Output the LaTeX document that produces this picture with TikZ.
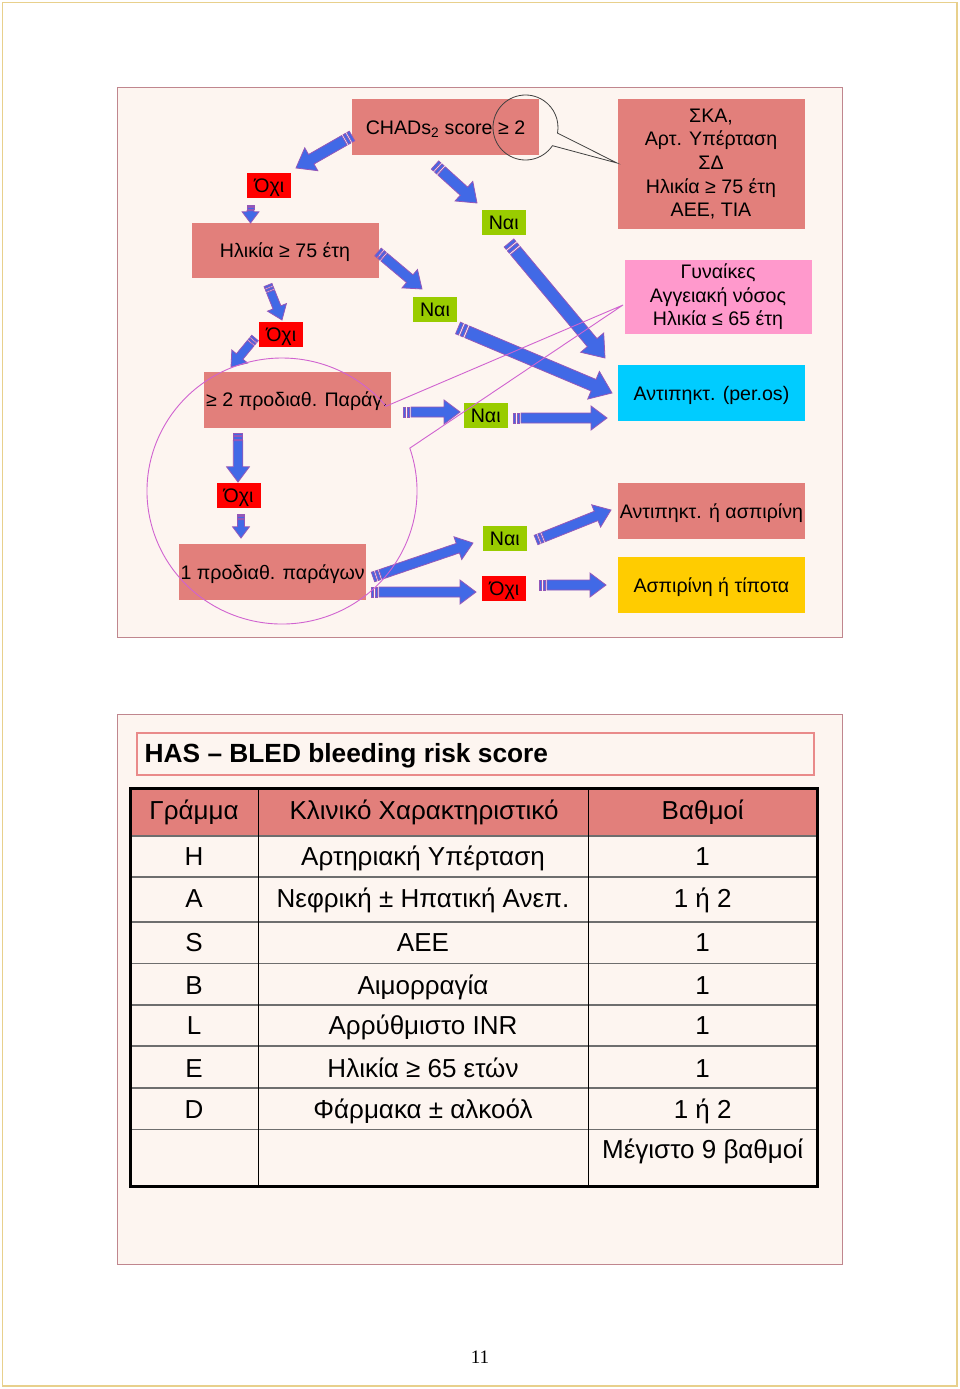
\documentclass[tikz,border=0pt]{standalone}
\usepackage{fontspec}
\setmainfont{Liberation Sans}
\newfontfamily\pagefont{Liberation Serif}
\usetikzlibrary{calc}

\definecolor{slidebg}{HTML}{FDF5F0}
\definecolor{slideline}{HTML}{C0868E}
\definecolor{salmon}{HTML}{E27F7B}
\definecolor{nored}{HTML}{FF0000}
\definecolor{yesgreen}{HTML}{99CC00}
\definecolor{rosepink}{HTML}{FF99CC}
\definecolor{skycyan}{HTML}{00CCFF}
\definecolor{goldbox}{HTML}{FFCC00}
\definecolor{arrowblue}{HTML}{4169E6}
\definecolor{arrowrim}{HTML}{9457B8}
\definecolor{calloutpink}{HTML}{D063D0}
\definecolor{pagegold}{HTML}{E8D08C}
\definecolor{titlerim}{HTML}{E98A8A}
\definecolor{gridgray}{HTML}{6E6E6E}

\tikzset{
  boxtext/.style={font=\fontsize{19.6}{23.6}\selectfont, align=center, inner sep=0pt},
  oneline/.style={text height=14pt, text depth=0pt},
  flowbox/.style={boxtext, fill=salmon, minimum width=187pt, minimum height=56pt},
  nobox/.style={boxtext, oneline, fill=nored, minimum width=44pt, minimum height=25pt},
  yesbox/.style={boxtext, oneline, fill=yesgreen, minimum width=44pt, minimum height=25pt},
  arrowbody/.style={fill=arrowblue, draw=arrowrim, line width=0.8pt, line join=miter},
  callout/.style={draw=calloutpink, line width=0.9pt},
  slideframe/.style={draw=slideline, fill=slidebg, line width=1pt},
  cell/.style={font=\fontsize{26}{26}\selectfont, inner sep=0pt, text height=18.6pt, text depth=0pt},
  gridline/.style={draw=gridgray, line width=1.6pt}
}

% striped block arrow: [size] tail, tip
\newcommand{\stripedarrow}[3][1]{%
  \pgfpointdiff{\pgfpointanchor{#2}{center}}{\pgfpointanchor{#3}{center}}%
  \pgfgetlastxy{\sadx}{\sady}%
  \pgfmathsetmacro{\saang}{atan2(\sady,\sadx)}%
  \pgfmathsetmacro{\salen}{veclen(\sadx,\sady)/#1}%
  \begin{scope}[shift={(#2)}, rotate=\saang, scale=#1]
    \filldraw[arrowbody] (0,-5) rectangle (2.5,5);
    \filldraw[arrowbody] (4,-5) rectangle (6.5,5);
    \filldraw[arrowbody] (8,-5) -- (\salen-16,-5) -- (\salen-16,-12)
      -- (\salen,0) -- (\salen-16,12) -- (\salen-16,5) -- (8,5) -- cycle;
  \end{scope}}

\begin{document}
\begin{tikzpicture}[x=1pt,y=-1pt]
    % Page
    \useasboundingbox (0,0) rectangle (960,1389);
    \fill[white] (0,0) rectangle (960,1389);
    \draw[pagegold, line width=1.5pt] (2.5,2.5) rectangle (957,1386);

    % Slides
    \draw[slideframe] (117.5,87.5) rectangle (842,637.5);
    \draw[slideframe] (117.5,714.5) rectangle (842,1264);

    % Decision boxes
    \node[flowbox, oneline] (chads) at (445.5,127) {CHADs\textsubscript{2} score ≥ 2};
    \node[flowbox, minimum height=130pt] (risks) at (711,164)
        {ΣΚΑ,\\Αρτ. Υπέρταση\\ΣΔ\\Ηλικία ≥ 75 έτη\\ΑΕΕ, ΤΙΑ};
    \node[flowbox, oneline, minimum height=55pt] (age) at (285,250.5) {Ηλικία ≥ 75 έτη};
    \node[flowbox, fill=rosepink, minimum height=74pt] (women) at (718,297)
        {Γυναίκες\\Αγγειακή νόσος\\Ηλικία ≤ 65 έτη};
    \node[flowbox, oneline] (twofac) at (297,399.7) {≥ 2 προδιαθ. Παράγ.};
    \node[flowbox, oneline, fill=skycyan] (oac) at (711.4,393) {Αντιπηκτ. (per.os)};
    \node[flowbox, oneline] (oacasp) at (711.4,511) {Αντιπηκτ. ή ασπιρίνη};
    \node[flowbox, oneline] (onefac) at (272.6,572.3) {1 προδιαθ. παράγων};
    \node[flowbox, oneline, fill=goldbox] (aspnone) at (711.4,585.3) {Ασπιρίνη ή τίποτα};

    % Yes / no labels
    \node[nobox] (no1) at (269.3,185.5) {Όχι};
    \node[yesbox] (yes1) at (503.7,222.5) {Ναι};
    \node[yesbox] (yes2) at (435,309.5) {Ναι};
    \node[nobox] (no2) at (281.2,334.3) {Όχι};
    \node[yesbox] (yes3) at (485.7,415.2) {Ναι};
    \node[nobox] (no3) at (238.6,495.2) {Όχι};
    \node[yesbox] (yes4) at (504.9,538.9) {Ναι};
    \node[nobox] (no4) at (504.4,588.2) {Όχι};

    % Arrow ends
    \coordinate (chads-no-t) at (352,136);
    \coordinate (chads-no-h) at (296,168);
    \coordinate (chads-yes-t) at (435,165);
    \coordinate (chads-yes-h) at (477,203);
    \coordinate (no1-age-t) at (250.5,205);
    \coordinate (no1-age-h) at (250.5,223);
    \coordinate (age-yes-t) at (378,252);
    \coordinate (age-yes-h) at (422,289);
    \coordinate (age-no-t) at (268,285);
    \coordinate (age-no-h) at (282,320);
    \coordinate (no2-two-t) at (255,338);
    \coordinate (no2-two-h) at (231,367);
    \coordinate (yes1-oac-t) at (509,243);
    \coordinate (yes1-oac-h) at (605,358);
    \coordinate (yes2-oac-t) at (458,328);
    \coordinate (yes2-oac-h) at (612,393);
    \coordinate (two-yes-t) at (403,412);
    \coordinate (two-yes-h) at (460,412);
    \coordinate (yes3-oac-t) at (513,418);
    \coordinate (yes3-oac-h) at (607,418);
    \coordinate (two-no-t) at (238,433);
    \coordinate (two-no-h) at (238,482);
    \coordinate (no3-one-t) at (241,514);
    \coordinate (no3-one-h) at (241,538);
    \coordinate (one-yes-t) at (373,577);
    \coordinate (one-yes-h) at (473,543);
    \coordinate (one-no-t) at (371,592);
    \coordinate (one-no-h) at (476,592);
    \coordinate (yes4-asp-t) at (536,540);
    \coordinate (yes4-asp-h) at (611,510);
    \coordinate (no4-asp-t) at (539,585);
    \coordinate (no4-asp-h) at (606,585);

    % Block arrows
    \stripedarrow[1.1]{chads-no-t}{chads-no-h}
    \stripedarrow[1.1]{chads-yes-t}{chads-yes-h}
    \stripedarrow[0.7]{no1-age-t}{no1-age-h}
    \stripedarrow{age-yes-t}{age-yes-h}
    \stripedarrow[0.85]{age-no-t}{age-no-h}
    \stripedarrow[0.85]{no2-two-t}{no2-two-h}
    \stripedarrow[1.25]{yes1-oac-t}{yes1-oac-h}
    \stripedarrow[1.25]{yes2-oac-t}{yes2-oac-h}
    \stripedarrow{two-yes-t}{two-yes-h}
    \stripedarrow{yes3-oac-t}{yes3-oac-h}
    \stripedarrow[0.95]{two-no-t}{two-no-h}
    \stripedarrow[0.7]{no3-one-t}{no3-one-h}
    \stripedarrow{one-yes-t}{one-yes-h}
    \stripedarrow{one-no-t}{one-no-h}
    \stripedarrow{yes4-asp-t}{yes4-asp-h}
    \stripedarrow{no4-asp-t}{no4-asp-h}

    % Callouts
    \coordinate (scorering) at (525.5,127.5);
    \coordinate (scoretip) at (617,163);
    \draw[black!75, line width=0.8pt] (scorering) ++(34:32.5)
        arc[start angle=34, end angle=369.9, radius=32.5] -- (scoretip) -- cycle;
    \coordinate (factorring) at (282,491);
    \coordinate (factortip) at (623,305);
    \draw[callout] (factorring) ++(-18.8:135 and 133)
        arc[start angle=-18.8, end angle=320.4, x radius=135, y radius=133]
        -- (factortip) -- cycle;

    % HAS-BLED title
    \node[draw=titlerim, line width=2pt, minimum width=677pt, minimum height=42pt,
          anchor=north west, inner sep=0pt] (titlebox) at (136,732) {};
    \node[font=\fontsize{26.3}{26.3}\selectfont\bfseries, anchor=west, inner sep=0pt,
          text height=18.8pt, text depth=0pt] (hastitle) at (144.5,753.5) {HAS – BLED bleeding risk score};

    % Table
    \fill[salmon] (130,788) rectangle (817,835.7);
    \foreach \ry in {835.7,877,922,963.6,1005,1046,1088,1129.6}
        \draw[gridline] (130,\ry) -- (817,\ry);
    \draw[line width=1pt] (258,788) -- (258,1186);
    \draw[line width=1pt] (588.5,788) -- (588.5,1186);
    \draw[line width=3pt] (130,788) rectangle (817,1186);

    \node[cell] (head-ltr) at (194,810) {Γράμμα};
    \node[cell] (head-feat) at (424,810) {Κλινικό Χαρακτηριστικό};
    \node[cell] (head-pts) at (702.7,810) {Βαθμοί};
    \foreach \ry/\ltr/\feat/\pts in {856/H/Αρτηριακή Υπέρταση/1,
        898/A/Νεφρική ± Ηπατική Ανεπ./1 ή 2, 942/S/ΑΕΕ/1, 985/B/Αιμορραγία/1,
        1025.5/L/Αρρύθμιστο INR/1, 1068/E/Ηλικία ≥ 65 ετών/1,
        1109.5/D/Φάρμακα ± αλκοόλ/1 ή 2}{
        \node[cell] (ltr-\ltr) at (194,\ry) {\ltr};
        \node[cell] (feat-\ltr) at (423,\ry) {\feat};
        \node[cell] (pts-\ltr) at (702.7,\ry) {\pts};
    }
    \node[cell] (maxpts) at (702.7,1149) {Μέγιστο 9 βαθμοί};

    % Page number
    \node[font=\pagefont\fontsize{19}{19}\selectfont, inner sep=0pt,
          text height=12.9pt, text depth=0pt] (pagenum) at (480,1357) {11};
\end{tikzpicture}
\end{document}
